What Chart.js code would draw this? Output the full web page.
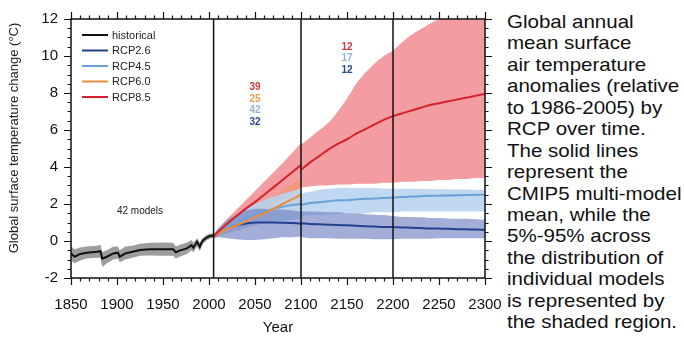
<!DOCTYPE html>
<html>
<head>
<meta charset="utf-8">
<script src="https://cdn.jsdelivr.net/npm/chart.js@4.4.1/dist/chart.umd.min.js"></script>
<style>
  body { margin: 0; background: #fff; width: 684px; height: 337px; overflow: hidden; position: relative; }
  #wrap { position: absolute; left: 0; top: 0; width: 502px; height: 337px; }
  #caption {
    position: absolute; left: 507px; top: 11px; width: 200px;
    font-family: "Liberation Sans", Arial, sans-serif; font-size: 19px; line-height: 21.43px;
    color: #111; white-space: nowrap; transform: scaleX(1.08); transform-origin: 0 0;
  }
</style>
</head>
<body>
<div id="wrap"><canvas id="grafico"></canvas></div>
<div id="caption">Global annual<br>mean surface<br>air temperature<br>anomalies (relative<br>to 1986-2005) by<br>RCP over time.<br>The solid lines<br>represent the<br>CMIP5 multi-model<br>mean, while the<br>5%-95% across<br>the distribution of<br>individual models<br>is represented by<br>the shaded region.</div>
<script>
// ---- datos ----
const histYears = [1850,1854,1860,1867,1878,1882,1884,1889,1896,1901,1903,1909,1917,1925,1936,1947,1961,1964,1968,1976,1981,1983,1987,1990,1992,1994,1998,2001,2005];
const histMean  = [-0.67,-0.85,-0.70,-0.63,-0.58,-0.55,-0.95,-0.85,-0.67,-0.63,-0.85,-0.67,-0.58,-0.49,-0.45,-0.45,-0.45,-0.61,-0.52,-0.40,-0.22,-0.36,-0.04,-0.31,-0.08,0.05,0.20,0.27,0.30];
const histHi    = [-0.30,-0.45,-0.35,-0.30,-0.25,-0.20,-0.60,-0.50,-0.30,-0.30,-0.50,-0.30,-0.25,-0.15,-0.10,-0.08,-0.10,-0.30,-0.20,-0.10,0.05,-0.10,0.15,-0.10,0.10,0.20,0.35,0.40,0.42];
const histLo    = [-1.05,-1.20,-1.05,-0.95,-0.90,-0.90,-1.40,-1.20,-1.00,-0.95,-1.15,-1.00,-0.90,-0.80,-0.78,-0.80,-0.80,-0.95,-0.85,-0.70,-0.50,-0.62,-0.30,-0.55,-0.30,-0.12,0.05,0.12,0.18];

const projYears = [2005,2010,2020,2030,2040,2050,2060,2070,2080,2090,2100];
const rcp85   = [0.25,0.50,0.95,1.35,1.75,2.10,2.50,2.90,3.30,3.70,4.10];
const rcp85Hi = [0.35,0.65,1.20,1.70,2.20,2.70,3.20,3.70,4.20,4.75,5.30];
const rcp85Lo = [0.15,0.30,0.60,0.90,1.15,1.45,1.70,2.00,2.30,2.60,2.90];
const rcp60   = [0.25,0.40,0.65,0.85,1.05,1.30,1.50,1.75,2.00,2.25,2.50];
const rcp60Hi = [0.35,0.60,0.95,1.25,1.55,1.85,2.15,2.45,2.75,3.05,3.30];
const rcp60Lo = [0.15,0.25,0.40,0.55,0.70,0.85,1.00,1.20,1.40,1.55,1.70];
const rcp45   = [0.25,0.45,0.75,1.00,1.25,1.45,1.60,1.75,1.85,1.95,2.00];
const rcp45Hi = [0.35,0.60,1.05,1.40,1.70,2.00,2.20,2.40,2.55,2.70,2.80];
const rcp45Lo = [0.15,0.30,0.45,0.60,0.75,0.85,0.95,1.05,1.10,1.15,1.20];
const rcp26   = [0.25,0.45,0.70,0.85,0.95,1.00,1.00,1.00,0.98,0.97,0.95];
const rcp26Hi = [0.35,0.70,1.15,1.45,1.65,1.75,1.75,1.70,1.70,1.65,1.60];
const rcp26Lo = [0.15,0.20,0.15,0.10,0.05,0.05,0.10,0.15,0.20,0.20,0.25];

const extYears = [2100,2110,2120,2130,2140,2150,2160,2170,2180,2190,2200,2210,2220,2230,2240,2250,2260,2270,2280,2290,2300];
const rcp85Ext   = [3.85,4.25,4.60,4.95,5.25,5.50,5.80,6.05,6.30,6.55,6.75,6.90,7.05,7.20,7.35,7.45,7.55,7.65,7.75,7.85,7.95];
const rcp85ExtHi = [5.2,5.6,6.0,6.4,7.0,7.7,8.5,9.1,9.6,10.0,10.3,10.75,11.15,11.45,11.75,12.0,12.2,12.3,12.4,12.5,12.6];
const rcp85ExtLo = [2.90,2.95,3.00,3.00,3.05,3.05,3.10,3.10,3.10,3.15,3.15,3.20,3.20,3.25,3.25,3.30,3.30,3.35,3.35,3.40,3.40];
const rcp45Ext   = [1.95,2.05,2.10,2.15,2.20,2.20,2.25,2.28,2.30,2.33,2.35,2.38,2.40,2.42,2.44,2.45,2.46,2.47,2.48,2.50,2.50];
const rcp45ExtHi = [2.65,2.75,2.85,2.90,2.95,2.95,2.95,2.95,2.95,2.90,2.90,2.90,2.90,2.90,2.88,2.88,2.88,2.86,2.86,2.85,2.85];
const rcp45ExtLo = [1.35,1.40,1.40,1.45,1.45,1.50,1.50,1.50,1.55,1.55,1.55,1.60,1.60,1.60,1.60,1.60,1.60,1.60,1.60,1.60,1.60];
const rcp26Ext   = [0.95,0.92,0.90,0.88,0.86,0.85,0.83,0.80,0.78,0.76,0.75,0.73,0.72,0.70,0.68,0.67,0.66,0.64,0.63,0.62,0.60];
const rcp26ExtHi = [1.60,1.60,1.58,1.55,1.55,1.50,1.50,1.45,1.42,1.40,1.35,1.30,1.30,1.28,1.25,1.25,1.22,1.20,1.20,1.18,1.15];
const rcp26ExtLo = [0.20,0.15,0.15,0.15,0.12,0.12,0.12,0.12,0.10,0.10,0.10,0.12,0.12,0.12,0.12,0.15,0.15,0.15,0.15,0.15,0.15];

const seriesNames = ['historical', 'RCP2.6', 'RCP4.5', 'RCP6.0', 'RCP8.5'];
const models2100 = [39, 25, 42, 32];   // RCP8.5, RCP6.0, RCP4.5, RCP2.6
const models2300 = [12, 17, 12];       // RCP8.5, RCP4.5, RCP2.6
const histModels = '42 models';
const periodBreaks = [2005, 2100, 2200];
const xTicks = [1850, 1900, 1950, 2000, 2050, 2100, 2150, 2200, 2250, 2300];
const yTicks = [-2, 0, 2, 4, 6, 8, 10, 12];

// ---- colores ----
const COL = {
  historical: '#111111', 'RCP2.6': '#22408f', 'RCP4.5': '#6aa2d8', 'RCP6.0': '#ec8c3c', 'RCP8.5': '#d8202a'
};
const BANDA = {
  historical: 'rgba(140,140,140,0.85)',
  'RCP2.6': 'rgba(110,128,192,0.64)',
  'RCP4.5': 'rgba(185,212,240,0.9)',
  'RCP6.0': 'rgba(240,150,90,0.5)',
  'RCP8.5': 'rgba(235,95,105,0.62)'
};
const NUM_COL = { 'RCP2.6': '#2a4a8a', 'RCP4.5': '#8fb4d8', 'RCP6.0': '#e8a050', 'RCP8.5': '#d03a3a' };

const pts = (xs, ys) => xs.map((x, i) => ({ x: x, y: ys[i] }));
const suave = xs => xs === extYears ? 'monotone' : 'default';

function linea(xs, ys, nombre) {
  return { data: pts(xs, ys), borderColor: COL[nombre], borderWidth: 2, pointRadius: 0, fill: false,
           cubicInterpolationMode: suave(xs) };
}
function bandaSup(xs, ys, nombre, borde) {
  return { data: pts(xs, ys), borderColor: borde || 'rgba(0,0,0,0)', borderWidth: borde ? 3 : 1,
           backgroundColor: BANDA[nombre], pointRadius: 0, fill: '+1', cubicInterpolationMode: suave(xs) };
}
function bandaInf(xs, ys) {
  return { data: pts(xs, ys), borderColor: 'rgba(0,0,0,0)', borderWidth: 1, pointRadius: 0, fill: false,
           cubicInterpolationMode: suave(xs) };
}

const datasets = [
  linea(projYears, rcp85, 'RCP8.5'),
  linea(extYears, rcp85Ext, 'RCP8.5'),
  linea(projYears, rcp60, 'RCP6.0'),
  linea(projYears, rcp45, 'RCP4.5'),
  linea(extYears, rcp45Ext, 'RCP4.5'),
  linea(projYears, rcp26, 'RCP2.6'),
  linea(extYears, rcp26Ext, 'RCP2.6'),
  linea(histYears, histMean, 'historical'),
  bandaSup(projYears, rcp26Hi, 'RCP2.6'), bandaInf(projYears, rcp26Lo),
  bandaSup(extYears, rcp26ExtHi, 'RCP2.6'), bandaInf(extYears, rcp26ExtLo),
  bandaSup(projYears, rcp45Hi, 'RCP4.5'), bandaInf(projYears, rcp45Lo),
  bandaSup(extYears, rcp45ExtHi, 'RCP4.5', '#ffffff'), bandaInf(extYears, rcp45ExtLo),
  bandaSup(projYears, rcp60Hi, 'RCP6.0'), bandaInf(projYears, rcp60Lo),
  bandaSup(projYears, rcp85Hi, 'RCP8.5'), bandaInf(projYears, rcp85Lo),
  bandaSup(extYears, rcp85ExtHi, 'RCP8.5'), bandaInf(extYears, rcp85ExtLo),
  bandaSup(histYears, histHi, 'historical'), bandaInf(histYears, histLo)
];

const FONT = '"Liberation Sans", Arial, sans-serif';

// Marco, ticks menores, separadores, leyenda y anotaciones
const decoraciones = {
  id: 'decoraciones',
  afterDatasetsDraw(chart) {
    const { ctx, chartArea: a, scales: { x } } = chart;
    ctx.save();
    ctx.strokeStyle = '#111';
    ctx.lineWidth = 1.5;
    periodBreaks.forEach(v => {
      const px = x.getPixelForValue(v);
      ctx.beginPath(); ctx.moveTo(px, a.top); ctx.lineTo(px, a.bottom); ctx.stroke();
    });
    ctx.restore();
  },
  afterDraw(chart) {
    const { ctx, chartArea: a, scales: { x, y } } = chart;
    ctx.save();
    ctx.strokeStyle = '#111';
    ctx.lineWidth = 1.5;
    ctx.strokeRect(a.left, a.top, a.right - a.left, a.bottom - a.top);

    // ticks en los cuatro lados
    ctx.lineWidth = 1.2;
    for (let v = 1850; v <= 2300; v += 10) {
      const px = Math.round(x.getPixelForValue(v)) + 0.5;
      const len = xTicks.includes(v) ? 7 : 3.5;
      ctx.beginPath();
      ctx.moveTo(px, a.bottom); ctx.lineTo(px, a.bottom + len);
      ctx.moveTo(px, a.top); ctx.lineTo(px, a.top - len);
      ctx.stroke();
    }
    for (let v = -2; v <= 12; v += 0.5) {
      const py = Math.round(y.getPixelForValue(v)) + 0.5;
      const len = yTicks.includes(v) ? 7 : 3.5;
      ctx.beginPath();
      ctx.moveTo(a.left, py); ctx.lineTo(a.left - len, py);
      ctx.moveTo(a.right, py); ctx.lineTo(a.right + len, py);
      ctx.stroke();
    }

    // titulo del eje y
    ctx.fillStyle = '#222';
    ctx.font = '13px ' + FONT;
    ctx.textAlign = 'center';
    ctx.textBaseline = 'middle';
    ctx.translate(14, 138);
    ctx.rotate(-Math.PI / 2);
    ctx.fillText('Global surface temperature change (\u00b0C)', 0, 0);
    ctx.setTransform(1, 0, 0, 1, 0, 0);

    // leyenda
    ctx.font = '11px ' + FONT;
    ctx.textAlign = 'left';
    seriesNames.forEach((n, i) => {
      const py = a.top + 16 + i * 15.5;
      ctx.strokeStyle = COL[n];
      ctx.lineWidth = 2;
      ctx.beginPath(); ctx.moveTo(a.left + 11, py); ctx.lineTo(a.left + 37, py); ctx.stroke();
      ctx.fillStyle = '#222';
      ctx.fillText(n, a.left + 41, py + 0.5);
    });

    // numero de modelos
    ctx.font = 'bold 10px ' + FONT;
    ctx.textAlign = 'center';
    const orden2100 = ['RCP8.5', 'RCP6.0', 'RCP4.5', 'RCP2.6'];
    const y0 = y.getPixelForValue(8.3);
    models2100.forEach((m, i) => {
      ctx.fillStyle = NUM_COL[orden2100[i]];
      ctx.fillText(String(m), x.getPixelForValue(2050), y0 + i * 11.5);
    });
    const orden2300 = ['RCP8.5', 'RCP4.5', 'RCP2.6'];
    const y1 = y.getPixelForValue(10.5);
    models2300.forEach((m, i) => {
      ctx.fillStyle = NUM_COL[orden2300[i]];
      ctx.fillText(String(m), x.getPixelForValue(2150), y1 + i * 11.7);
    });
    ctx.font = '10px ' + FONT;
    ctx.fillStyle = '#222';
    ctx.fillText(histModels, x.getPixelForValue(1925), y.getPixelForValue(1.6));
    ctx.restore();
  }
};

Chart.defaults.font.family = FONT;
Chart.defaults.color = '#111';

new Chart(document.getElementById('grafico').getContext('2d'), {
  type: 'line',
  data: { datasets: datasets },
  options: {
    responsive: true,
    maintainAspectRatio: false,
    animation: false,
    events: [],
    layout: { padding: { left: 0, top: 19, right: 17, bottom: 0 } },
    plugins: { legend: { display: false }, tooltip: { enabled: false } },
    scales: {
      x: {
        type: 'linear', min: 1850, max: 2300,
        grid: { display: false, drawTicks: false },
        border: { display: false },
        afterFit: s => { s.height = 59; s.paddingLeft = 0; s.paddingRight = 0; },
        afterBuildTicks: s => { s.ticks = xTicks.map(v => ({ value: v })); },
        ticks: { font: { size: 15 }, color: '#111', padding: 18, maxRotation: 0, autoSkip: false,
                 callback: v => String(v) },
        title: { display: true, text: 'Year', font: { size: 15 }, color: '#111', padding: { top: 2, bottom: 0 } }
      },
      y: {
        min: -2, max: 12,
        grid: { display: false, drawTicks: false },
        border: { display: false },
        afterFit: s => { s.width = 71; s.paddingTop = 0; s.paddingBottom = 0; },
        afterBuildTicks: s => { s.ticks = yTicks.map(v => ({ value: v })); },
        ticks: { font: { size: 15 }, color: '#111', padding: 13, callback: v => String(v) }
      }
    }
  },
  plugins: [decoraciones]
});
</script>
</body>
</html>
